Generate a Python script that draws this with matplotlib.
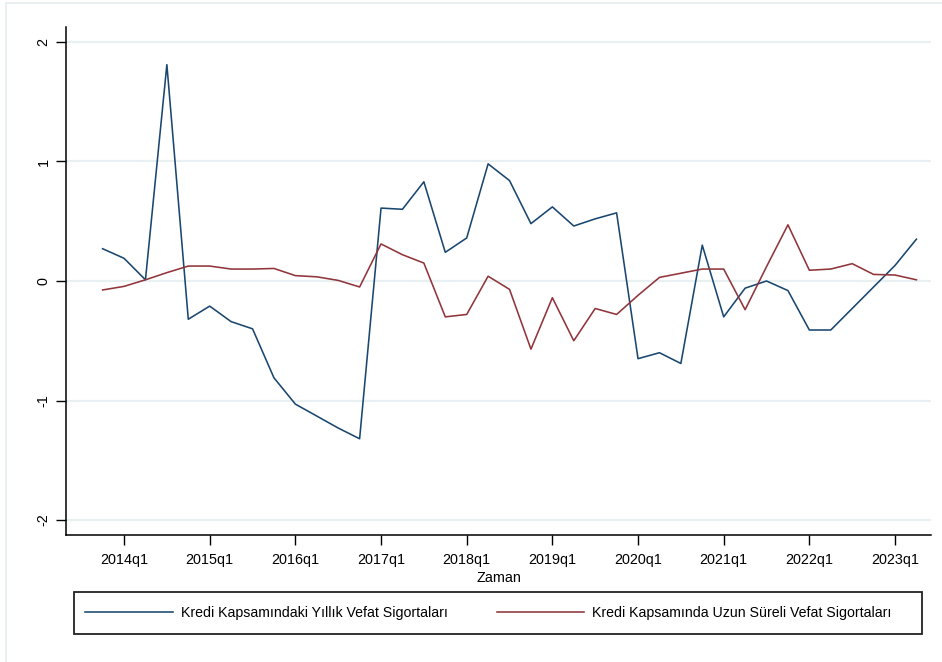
import matplotlib
matplotlib.use("Agg")
import matplotlib.pyplot as plt
from matplotlib.patches import Rectangle
from matplotlib.lines import Line2D

plt.rcParams["font.family"] = ["Liberation Sans", "DejaVu Sans"]

# Quarterly periods, Stata-style numbering (2014q1 = 216); first obs 2013q4
start_q = 215
yillik = [0.27, 0.19, 0.01, 1.81, -0.32, -0.21, -0.34, -0.40, -0.81, -1.03,
          -1.13, -1.23, -1.32, 0.61, 0.60, 0.83, 0.24, 0.36, 0.98, 0.84,
          0.48, 0.62, 0.46, 0.52, 0.57, -0.65, -0.60, -0.69, 0.30, -0.30,
          -0.06, 0.00, -0.08, -0.41, -0.41, -0.23, -0.05, 0.13, 0.35]
uzun = [-0.075, -0.045, 0.01, 0.07, 0.125, 0.125, 0.10, 0.10, 0.105, 0.045,
        0.035, 0.005, -0.05, 0.31, 0.22, 0.15, -0.30, -0.28, 0.04, -0.07,
        -0.57, -0.14, -0.50, -0.23, -0.28, -0.12, 0.03, 0.065, 0.10, 0.10,
        -0.24, 0.12, 0.47, 0.09, 0.10, 0.145, 0.055, 0.05, 0.01]
quarters = list(range(start_q, start_q + len(yillik)))

tick_q = list(range(216, 253, 4))
tick_labels = [f"{2014 + i}q1" for i in range(len(tick_q))]
y_ticks = [-2, -1, 0, 1, 2]

label_yillik = "Kredi Kapsamındaki Yıllık Vefat Sigortaları"
label_uzun = "Kredi Kapsamında Uzun Süreli Vefat Sigortaları"

W, H = 942, 662
fig = plt.figure(figsize=(W / 100, H / 100), dpi=100)
fig.patch.set_facecolor("white")

# outer graph-region outline (top and left edges visible)
fig.add_artist(Line2D([6 / W, 1], [1 - 3 / H, 1 - 3 / H], transform=fig.transFigure,
                      color="#e6eef0", lw=1.2))
fig.add_artist(Line2D([6 / W, 6 / W], [0, 1 - 3 / H], transform=fig.transFigure,
                      color="#e6eef0", lw=1.2))

left, right, top, bottom = 66, 931, 27, 535
ax = fig.add_axes([left / W, 1 - bottom / H, (right - left) / W, (bottom - top) / H])

navy = "#1a476f"
maroon = "#90353b"
ax.plot(quarters, yillik, color=navy, lw=1.15, label=label_yillik, zorder=3)
ax.plot(quarters, uzun, color=maroon, lw=1.15, label=label_uzun, zorder=3)

ax.set_xlim(213.29, 253.68)
ax.set_ylim(-2.125, 2.125)

ax.set_yticks(y_ticks)
ax.set_yticklabels([str(v) for v in y_ticks], rotation=90, va="center")
ax.set_xticks(tick_q)
ax.set_xticklabels(tick_labels)
ax.tick_params(axis="both", labelsize=10.4, color="black", width=1.0, length=7, direction="out")
ax.tick_params(axis="y", pad=4)
ax.tick_params(axis="x", pad=6)

ax.grid(axis="y", color="#e9f0f2", lw=1.6, zorder=0)
ax.grid(axis="x", visible=False)
for s in ["top", "right"]:
    ax.spines[s].set_visible(False)
for s in ["left", "bottom"]:
    ax.spines[s].set_linewidth(1.1)
    ax.spines[s].set_color("black")

ax.set_xlabel("Zaman", fontsize=10.4, labelpad=3)

# legend box
lx0, lx1, ly0, ly1 = 74, 922, 592, 634
fig.add_artist(Rectangle((lx0 / W, 1 - ly1 / H), (lx1 - lx0) / W, (ly1 - ly0) / H,
                         transform=fig.transFigure, fill=False, edgecolor="#222222", lw=1.3))
fig.legend(loc="center left", bbox_to_anchor=(85 / W, 1 - 613 / H), ncol=2, frameon=False,
           fontsize=10.2, handlelength=6.2, handletextpad=0.55, columnspacing=3.47,
           borderpad=0.0, borderaxespad=0.0)

fig.savefig("out.png", dpi=100, facecolor="white")
